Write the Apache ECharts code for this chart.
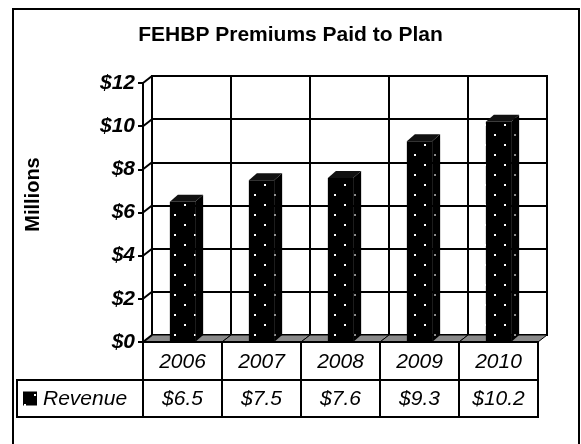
<!DOCTYPE html>
<html>
<head>
<meta charset="utf-8">
<script src="https://cdn.jsdelivr.net/npm/echarts@6/dist/echarts.min.js"></script>
<style>
  html, body { margin: 0; padding: 0; background: #fff; }
  #main { width: 581px; height: 444px; }
</style>
</head>
<body>
<div id="main"></div>
<script>
//---------------数据---------------
const years = ['2006', '2007', '2008', '2009', '2010']
const revenue = [6.5, 7.5, 7.6, 9.3, 10.2]
const yTicks = [0, 2, 4, 6, 8, 10, 12]
const seriesName = 'Revenue'

const FONT = '"Liberation Sans", Arial, sans-serif'
const DX = 9, DY = 7   // 背墙的纵深
const BX = 8, BY = 7   // 柱子的纵深

// 黑底白点的填充
function dotPattern(dot) {
  let c = document.createElement('canvas')
  c.width = 20
  c.height = 20
  let ctx = c.getContext('2d')
  ctx.fillStyle = '#000'
  ctx.fillRect(0, 0, 20, 20)
  ctx.fillStyle = dot
  ctx.fillRect(4, 4, 2, 2)
  ctx.fillRect(14, 14, 2, 2)
  return { image: c, repeat: 'repeat' }
}
const frontFill = dotPattern('#fff')
const sideFill = dotPattern('#888')

//---------------柱子---------------
function renderBar(params, api) {
  let i = api.value(0)
  let v = api.value(1)
  let base = api.coord([i, 0])
  let top = api.coord([i, v])
  let w = api.size([1, 0])[0] * 0.32
  let x0 = base[0] - w / 2
  let x1 = base[0] + w / 2
  return {
    type: 'group',
    children: [
      { type: 'rect', shape: { x: x0, y: top[1], width: w, height: base[1] - top[1] }, style: { fill: frontFill } },
      { type: 'polygon', shape: { points: [[x1, top[1]], [x1 + BX, top[1] - BY], [x1 + BX, base[1] - BY], [x1, base[1]]] }, style: { fill: sideFill } },
      { type: 'polygon', shape: { points: [[x0, top[1]], [x0 + BX, top[1] - BY], [x1 + BX, top[1] - BY], [x1, top[1]]] }, style: { fill: '#111' } }
    ]
  }
}

//---------------地板---------------
function renderFloor(params, api) {
  let i = api.value(0)
  let c = api.coord([i, 0])
  let w = api.size([1, 0])[0]
  let l = c[0] - w / 2, r = c[0] + w / 2, y = c[1]
  return {
    type: 'polygon',
    shape: { points: [[l, y], [r, y], [r + DX, y - DY], [l + DX, y - DY]] },
    style: { fill: '#8a8a8a', stroke: '#000', lineWidth: 1 }
  }
}

//---------------左侧墙的斜线---------------
function renderSideWall(params, api) {
  let v = api.value(1)
  let c = api.coord([0, v])
  let x = c[0] - api.size([1, 0])[0] / 2
  return {
    type: 'line',
    shape: { x1: x, y1: c[1], x2: x + DX, y2: c[1] - DY },
    style: { stroke: '#000', lineWidth: 2 }
  }
}

//---------------数据表---------------
function renderTable(params, api) {
  let i = api.value(0)
  let v = api.value(1)
  let c = api.coord([i, 0])
  let w = api.size([1, 0])[0]
  let l = c[0] - w / 2
  let y0 = c[1]
  let h1 = 38, h2 = 37
  let cellStyle = { fill: '#fff', stroke: '#000', lineWidth: 2 }
  let textFont = 'italic 21px ' + FONT
  let children = [
    { type: 'rect', shape: { x: l, y: y0, width: w, height: h1 }, style: cellStyle },
    { type: 'rect', shape: { x: l, y: y0 + h1, width: w, height: h2 }, style: cellStyle },
    { type: 'text', x: c[0], y: y0 + h1 / 2 + 1, style: { text: years[i], font: textFont, fill: '#000', align: 'center', verticalAlign: 'middle' } },
    { type: 'text', x: c[0], y: y0 + h1 + h2 / 2 + 1, style: { text: '$' + v.toFixed(1), font: textFont, fill: '#000', align: 'center', verticalAlign: 'middle' } }
  ]
  if (i === 0) {
    // 图例格子
    let lx = 17
    children.push(
      { type: 'rect', shape: { x: lx, y: y0 + h1, width: l - lx, height: h2 }, style: cellStyle },
      { type: 'rect', shape: { x: lx + 6, y: y0 + h1 + h2 / 2 - 7, width: 14, height: 14 }, style: { fill: frontFill } },
      { type: 'text', x: lx + 26, y: y0 + h1 + h2 / 2 + 1, style: { text: seriesName, font: textFont, fill: '#000', align: 'left', verticalAlign: 'middle' } }
    )
  }
  return { type: 'group', children: children }
}

let myChart = echarts.init(document.querySelector('#main'))
let option = {
  animation: false,
  backgroundColor: '#fff',
  title: {
    text: 'FEHBP Premiums Paid to Plan',
    left: 'center',
    top: 20,
    textStyle: { fontSize: 21, fontWeight: 'bold', fontFamily: FONT, color: '#000' }
  },
  graphic: [
    { type: 'rect', shape: { x: 13, y: 9, width: 566, height: 470 }, style: { fill: 'none', stroke: '#000', lineWidth: 2 } }
  ],
  grid: [
    // 前面（坐标轴所在的平面）
    { left: 143, right: 43, top: 83, bottom: 102 },
    // 后墙
    { left: 152, right: 34, top: 76, bottom: 109, show: true, backgroundColor: '#fff', borderColor: '#000', borderWidth: 2 }
  ],
  xAxis: [
    { type: 'category', gridIndex: 0, data: years, show: false },
    {
      type: 'category', gridIndex: 1, data: years,
      axisLine: { show: false }, axisTick: { show: false }, axisLabel: { show: false },
      splitLine: { show: true, lineStyle: { color: '#000', width: 2 } }
    }
  ],
  yAxis: [
    {
      type: 'value', gridIndex: 0, min: 0, max: 12, interval: 2,
      name: 'Millions', nameLocation: 'middle', nameGap: 100, nameRotate: 90,
      nameTextStyle: { fontSize: 20, fontWeight: 'bold', fontFamily: FONT, color: '#000', padding: [0, 0, 0, 36] },
      axisLine: { show: true, lineStyle: { color: '#000', width: 2 } },
      axisTick: { show: true, length: 5, lineStyle: { color: '#000', width: 2 } },
      axisLabel: {
        formatter: '${value}', margin: 8, color: '#000',
        fontSize: 21, fontWeight: 'bold', fontStyle: 'italic', fontFamily: FONT
      },
      splitLine: { show: false }
    },
    {
      type: 'value', gridIndex: 1, min: 0, max: 12, interval: 2,
      axisLine: { show: false }, axisTick: { show: false }, axisLabel: { show: false },
      splitLine: { show: true, lineStyle: { color: '#000', width: 2 } }
    }
  ],
  series: [
    {
      type: 'custom', name: 'floor', xAxisIndex: 0, yAxisIndex: 0, z: 3, clip: false,
      renderItem: renderFloor,
      data: years.map((y, i) => [i, 0])
    },
    {
      type: 'custom', name: 'wall', xAxisIndex: 0, yAxisIndex: 0, z: 3, clip: false,
      renderItem: renderSideWall,
      data: yTicks.map(v => [0, v])
    },
    {
      type: 'custom', name: seriesName, xAxisIndex: 0, yAxisIndex: 0, z: 4, clip: false,
      renderItem: renderBar,
      data: revenue.map((v, i) => [i, v])
    },
    {
      type: 'custom', name: 'table', xAxisIndex: 0, yAxisIndex: 0, z: 5, clip: false,
      renderItem: renderTable,
      data: revenue.map((v, i) => [i, v])
    }
  ]
}
myChart.setOption(option)
</script>
</body>
</html>
